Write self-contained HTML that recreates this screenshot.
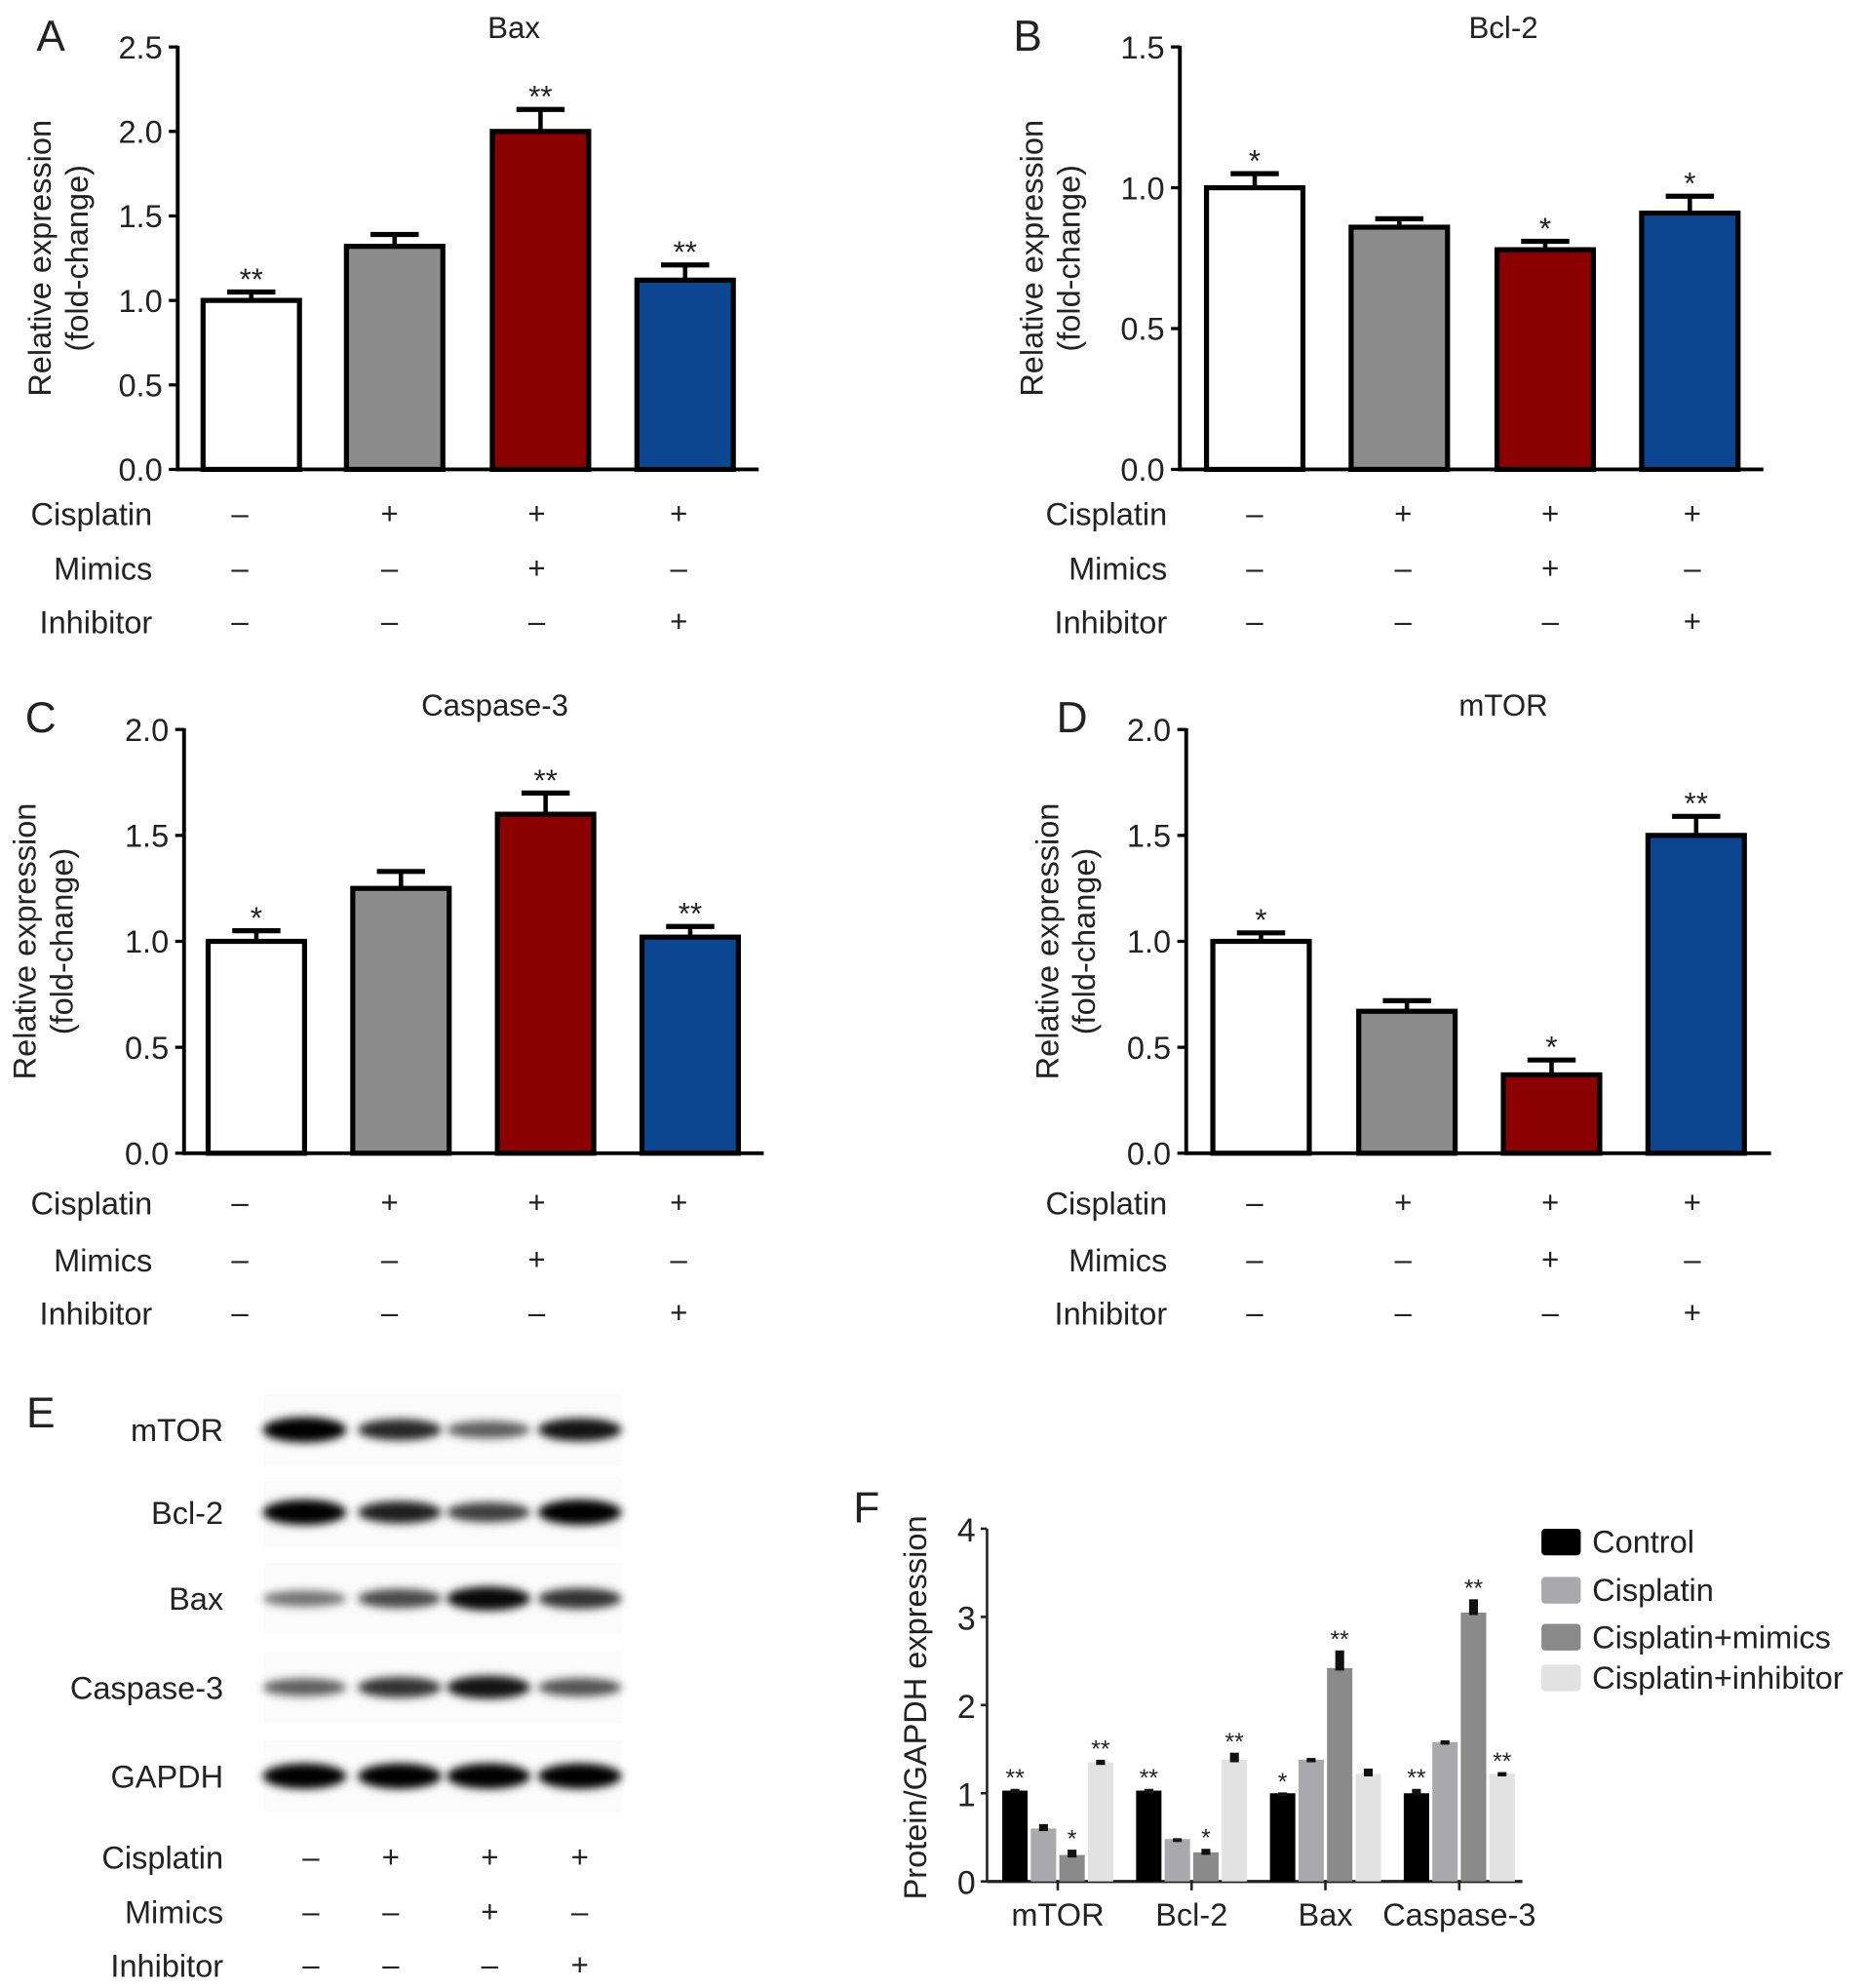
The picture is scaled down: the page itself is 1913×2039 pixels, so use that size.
<!DOCTYPE html>
<html><head><meta charset="utf-8"><style>
html,body{margin:0;padding:0;background:#fff;}
svg{display:block;font-family:"Liberation Sans",Arial,sans-serif;}
</style></head><body>
<svg id="fig" width="1913" height="2039" viewBox="0 0 1470 1567" xmlns="http://www.w3.org/2000/svg">
<defs><filter id="blur" x="-30%" y="-100%" width="160%" height="300%"><feGaussianBlur stdDeviation="3.5"/></filter></defs>
</svg>
<script>
// ---- data ----
const groupLabels = ["Cisplatin","Mimics","Inhibitor"];
const groupSigns = [["–","+","+","+"],["–","–","+","–"],["–","–","–","+"]];
const baxValues = [1.0, 1.32, 2.0, 1.12];
const baxErrors = [0.05, 0.07, 0.13, 0.09];
const baxStars = ["**","","**","**"];
const bcl2Values = [1.0, 0.86, 0.78, 0.91];
const bcl2Errors = [0.05, 0.03, 0.03, 0.06];
const bcl2Stars = ["*","","*","*"];
const casp3Values = [1.0, 1.25, 1.6, 1.02];
const casp3Errors = [0.05, 0.08, 0.1, 0.05];
const casp3Stars = ["*","","**","**"];
const mtorValues = [1.0, 0.67, 0.37, 1.5];
const mtorErrors = [0.04, 0.05, 0.07, 0.09];
const mtorStars = ["*","","*","**"];
const ticksA = ["0.0","0.5","1.0","1.5","2.0","2.5"];
const ticksB = ["0.0","0.5","1.0","1.5"];
const ticksCD = ["0.0","0.5","1.0","1.5","2.0"];
const fCategories = ["mTOR","Bcl-2","Bax","Caspase-3"];
const fSeries = ["Control","Cisplatin","Cisplatin+mimics","Cisplatin+inhibitor"];
const fControl = [1.03, 1.03, 1.0, 1.0];
const fCisplatin = [0.6, 0.48, 1.38, 1.58];
const fMimics = [0.3, 0.33, 2.42, 3.05];
const fInhibitor = [1.35, 1.38, 1.22, 1.22];
const fControlErr = [0.02, 0.02, 0.01, 0.05];
const fCisplatinErr = [0.05, 0.01, 0.02, 0.02];
const fMimicsErr = [0.06, 0.04, 0.2, 0.15];
const fInhibitorErr = [0.03, 0.08, 0.06, 0.02];
const fStars = [["**","","*","**"],["**","","*","**"],["*","","**",""],["**","","**","**"]];
const fTicks = ["0","1","2","3","4"];
const blotProteins = ["mTOR","Bcl-2","Bax","Caspase-3","GAPDH"];
const blotIntensity = [[1,0.75,0.5,0.85],[1,0.8,0.65,1],[0.4,0.6,0.9,0.7],[0.5,0.7,0.85,0.55],[1,1,1,1]];

const NS="http://www.w3.org/2000/svg";
const svg=document.getElementById('fig');
function el(tag,attrs,parent){const e=document.createElementNS(NS,tag);for(const k in attrs)e.setAttribute(k,attrs[k]);(parent||svg).appendChild(e);return e;}
function txt(s,x,y,size,anchor,parent){const t=el('text',{x:x,y:y,'font-size':size,'text-anchor':anchor||'middle',fill:'#222'},parent);t.textContent=s;return t;}

const barColors=["#ffffff","#8c8c8c","#8b0000","#0c4690"];

function panel(o){
  const g=el('g',{});
  
  
  const y=v=>o.y0-(v/o.max)*(o.y0-o.yTop);
  const L=txt(o.letter,o.lx,o.ly,34,'middle',g);
  
  
  const T=txt(o.title,o.tx,o.ty,24,'middle',g);
  
  
  el('line',{x1:o.ax,y1:o.yTop-1,x2:o.ax,y2:o.y0+1.5,stroke:'#000','stroke-width':3},g);
  el('line',{x1:o.ax,y1:o.y0,x2:o.axEnd,y2:o.y0,stroke:'#000','stroke-width':3},g);
  o.ticks.forEach((t,i)=>{
    const v=parseFloat(t); const yy=y(v);
    el('line',{x1:o.ax-7,y1:yy,x2:o.ax,y2:yy,stroke:'#000','stroke-width':2.5},g);
    const tl=txt(t,o.ax-12,yy+9,25,'end',g);
    
    
  });
  const yt=el('text',{x:0,y:0,'font-size':25,'text-anchor':'middle',fill:'#222',transform:`translate(${o.ytx},${(o.y0+o.yTop)/2}) rotate(-90)`},g);
  
  
  const t1=el('tspan',{x:0,dy:0},yt);t1.textContent='Relative expression';
  const t2=el('tspan',{x:0,dy:29},yt);t2.textContent='(fold-change)';
  o.values.forEach((v,i)=>{
    const x=o.bx[i], w=76, top=y(v), eTop=y(v+o.errors[i]);
    const cx=x+w/2;
    const eb=el('g',{},g);
    
    
    el('line',{x1:cx,y1:top,x2:cx,y2:eTop,stroke:'#000','stroke-width':3.5},eb);
    el('line',{x1:cx-19,y1:eTop,x2:cx+19,y2:eTop,stroke:'#000','stroke-width':4},eb);
    const r=el('rect',{x:x,y:top,width:w,height:o.y0-top,fill:barColors[i],stroke:'#000','stroke-width':4},g);
    
    
    if(o.stars[i]){const s=txt(o.stars[i],cx,eTop-2,24,'middle',g);
      
      }
  });
  groupLabels.forEach((lab,r)=>{
    const yy=o.rowY[r];
    const l=txt(lab,o.labRight,yy+9,25,'end',g);
    
    
    groupSigns[r].forEach((s,i)=>{
      const st=txt(s,o.sx[i],yy+8,24,'middle',g);
      
      
    });
  });
}
panel({name:'panel-a-bax',letter:'A',lx:40,ly:40,title:'Bax',tx:405,ty:30,ax:140,axEnd:598,yTop:37,y0:370,max:2.5,ticks:ticksA,ytx:40,
  values:baxValues,errors:baxErrors,stars:baxStars,bx:[160,273,388,502],labRight:120,rowY:[405,448,490],sx:[189,307,423,535]});
panel({name:'panel-b-bcl2',letter:'B',lx:810,ly:40,title:'Bcl-2',tx:1185,ty:30,ax:930,axEnd:1390,yTop:37,y0:370,max:1.5,ticks:ticksB,ytx:822,
  values:bcl2Values,errors:bcl2Errors,stars:bcl2Stars,bx:[951,1065,1180,1294],labRight:920,rowY:[405,448,490],sx:[989,1106,1222,1334]});
panel({name:'panel-c-caspase3',letter:'C',lx:32,ly:577,title:'Caspase-3',tx:390,ty:564,ax:145,axEnd:602,yTop:575,y0:909,max:2.0,ticks:ticksCD,ytx:28,
  values:casp3Values,errors:casp3Errors,stars:casp3Stars,bx:[164,278,392,506],labRight:120,rowY:[948,993,1035],sx:[189,307,423,535]});
panel({name:'panel-d-mtor',letter:'D',lx:845,ly:577,title:'mTOR',tx:1185,ty:564,ax:935,axEnd:1396,yTop:575,y0:909,max:2.0,ticks:ticksCD,ytx:834,
  values:mtorValues,errors:mtorErrors,stars:mtorStars,bx:[956,1071,1185,1299],labRight:920,rowY:[948,993,1035],sx:[989,1106,1222,1334]});

// ---- Panel E: western blot ----
(function(){
  const g=el('g',{});
  
  
  const L=txt('E',32,1125,34,'middle',g);
  
  
  const rowY=[1127,1192,1260,1330,1400];
  const lanes=[240,315,385,457];
  blotProteins.forEach((p,r)=>{
    const l=txt(p,176,rowY[r]+9,25,'end',g);
    
    
    const bg=el('rect',{x:208,y:rowY[r]-28,width:282,height:56,fill:'#fbfbfb'},g);
    
    
    blotIntensity[r].forEach((v,i)=>{
      const b=el('ellipse',{cx:lanes[i],cy:rowY[r],rx:33,ry:4+6*v,fill:'#000','fill-opacity':Math.min(1,0.2+0.85*v),filter:'url(#blur)'},g);
      
      
    });
  });
  const rows=[1464,1507,1549], sx=[245,308,386,457];
  groupLabels.forEach((lab,r)=>{
    const l=txt(lab,176,rows[r]+9,25,'end',g);
    
    
    groupSigns[r].forEach((s,i)=>{
      const st=txt(s,sx[i],rows[r]+8,24,'middle',g);
      
      
    });
  });
})();

// ---- Panel F: grouped bar chart ----
(function(){
  const g=el('g',{});
  
  
  const L=txt('F',683,1200,34,'middle',g);
  
  
  const ax=778, axEnd=1200, y0=1483, yTop=1205, max=4;
  const y=v=>y0-(v/max)*(y0-yTop);
  el('line',{x1:ax,y1:yTop,x2:ax,y2:y0+1,stroke:'#222','stroke-width':2},g);
  el('line',{x1:ax,y1:y0,x2:axEnd,y2:y0,stroke:'#222','stroke-width':2.5},g);
  fTicks.forEach(t=>{
    const yy=y(parseFloat(t));
    el('line',{x1:ax-5,y1:yy,x2:ax,y2:yy,stroke:'#222','stroke-width':2},g);
    const tl=txt(t,ax-9,yy+10,26,'end',g);
    
    
  });
  const yt=el('text',{x:0,y:0,'font-size':25,'text-anchor':'middle',fill:'#222',transform:`translate(730,1346) rotate(-90)`},g);
  yt.textContent='Protein/GAPDH expression';
  
  
  const series=[fControl,fCisplatin,fMimics,fInhibitor];
  const errs=[fControlErr,fCisplatinErr,fMimicsErr,fInhibitorErr];
  const cols=["#000000","#a9a9ad","#8a8a8a","#e2e2e2"];
  const groupW=(axEnd-ax)/fCategories.length;
  fCategories.forEach((c,ci)=>{
    const gx=ax+8+ci*groupW+4, center=ax+(ci+0.5)*groupW+3;
    el('line',{x1:center,y1:y0,x2:center,y2:y0+7,stroke:'#222','stroke-width':2},g);
    const cl=txt(c,center,y0+35,25,'middle',g);
    
    
    series.forEach((s,si)=>{
      const bx=gx+si*22.5, w=20, top=y(s[ci]), eTop=y(s[ci]+errs[si][ci]);
      const r=el('rect',{x:bx,y:top,width:w,height:y0-top,fill:cols[si]},g);
      
      
      const e=el('rect',{x:bx+w/2-3.5,y:eTop,width:7,height:Math.max(3,top-eTop+2),fill:'#111'},g);
      
      
      const st=fStars[ci][si];
      if(st){const sm=txt(st,bx+w/2,eTop-2,19,'middle',g);
        
        }
    });
  });
  const ly=[1215,1253,1290,1322];
  fSeries.forEach((s,i)=>{
    const le=el('g',{},g);
    
    
    el('rect',{x:1215,y:ly[i]-10,width:31,height:21,rx:3,fill:cols[i]},le);
    txt(s,1255,ly[i]+9,25,'start',le);
  });
})();
</script>
</body></html>
